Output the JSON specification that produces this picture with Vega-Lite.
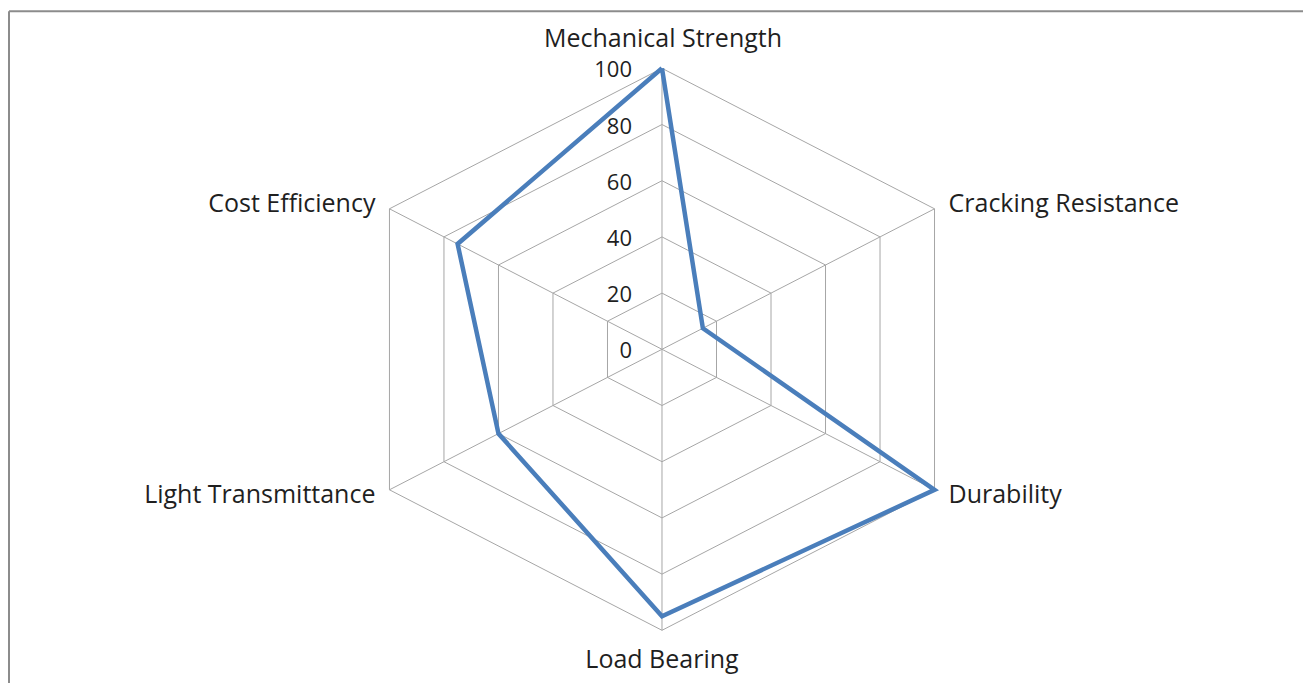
{
  "$schema": "https://vega.github.io/schema/vega-lite/v6.json",
  "width": 1303,
  "height": 683,
  "autosize": {"type": "none"},
  "padding": 0,
  "background": "white",
  "config": {"view": {"stroke": null}},
  "datasets": {
    "cats": [
      {"category": "Mechanical Strength", "i": 0, "value": 100},
      {"category": "Cracking Resistance", "i": 1, "value": 15},
      {"category": "Durability", "i": 2, "value": 100},
      {"category": "Load Bearing", "i": 3, "value": 95},
      {"category": "Light Transmittance", "i": 4, "value": 60},
      {"category": "Cost Efficiency", "i": 5, "value": 75}
    ],
    "series": [
      {"category": "Mechanical Strength", "i": 0, "value": 100},
      {"category": "Cracking Resistance", "i": 1, "value": 15},
      {"category": "Durability", "i": 2, "value": 100},
      {"category": "Load Bearing", "i": 3, "value": 95},
      {"category": "Light Transmittance", "i": 4, "value": 60},
      {"category": "Cost Efficiency", "i": 5, "value": 75},
      {"category": "Mechanical Strength", "i": 6, "value": 100}
    ],
    "grid": [
      {"level": 20, "i": 0}, {"level": 20, "i": 1}, {"level": 20, "i": 2}, {"level": 20, "i": 3}, {"level": 20, "i": 4}, {"level": 20, "i": 5}, {"level": 20, "i": 6},
      {"level": 40, "i": 0}, {"level": 40, "i": 1}, {"level": 40, "i": 2}, {"level": 40, "i": 3}, {"level": 40, "i": 4}, {"level": 40, "i": 5}, {"level": 40, "i": 6},
      {"level": 60, "i": 0}, {"level": 60, "i": 1}, {"level": 60, "i": 2}, {"level": 60, "i": 3}, {"level": 60, "i": 4}, {"level": 60, "i": 5}, {"level": 60, "i": 6},
      {"level": 80, "i": 0}, {"level": 80, "i": 1}, {"level": 80, "i": 2}, {"level": 80, "i": 3}, {"level": 80, "i": 4}, {"level": 80, "i": 5}, {"level": 80, "i": 6},
      {"level": 100, "i": 0}, {"level": 100, "i": 1}, {"level": 100, "i": 2}, {"level": 100, "i": 3}, {"level": 100, "i": 4}, {"level": 100, "i": 5}, {"level": 100, "i": 6}
    ],
    "ticks": [
      {"level": 0}, {"level": 20}, {"level": 40}, {"level": 60}, {"level": 80}, {"level": 100}
    ],
    "frame": [
      {"side": "left", "x": -207.5, "y": 120.3, "x2": -207.5, "y2": -130},
      {"side": "top", "x": -207.5, "y": 120.3, "x2": 215, "y2": 120.3}
    ]
  },
  "layer": [
    {
      "data": {"name": "frame"},
      "mark": {"type": "rule", "color": "#8c8c8c", "strokeWidth": 2},
      "encoding": {
        "x": {"field": "x", "type": "quantitative", "scale": {"domain": [-210.36, 203.69], "nice": false, "zero": false}, "axis": null},
        "y": {"field": "y", "type": "quantitative", "scale": {"domain": [-118.75, 124.31], "nice": false, "zero": false}, "axis": null},
        "x2": {"field": "x2"},
        "y2": {"field": "y2"}
      }
    },
    {
      "data": {"name": "grid"},
      "transform": [
        {"calculate": "datum.level * sin(datum.i * PI / 3)", "as": "gx"},
        {"calculate": "datum.level * cos(datum.i * PI / 3)", "as": "gy"}
      ],
      "mark": {"type": "line", "color": "#a6a6a6", "strokeWidth": 1, "strokeJoin": "miter"},
      "encoding": {
        "x": {"field": "gx", "type": "quantitative", "scale": {"domain": [-210.36, 203.69], "nice": false, "zero": false}, "axis": null},
        "y": {"field": "gy", "type": "quantitative", "scale": {"domain": [-118.75, 124.31], "nice": false, "zero": false}, "axis": null},
        "detail": {"field": "level", "type": "nominal"},
        "order": {"field": "i", "type": "quantitative"}
      }
    },
    {
      "data": {"name": "cats"},
      "transform": [
        {"calculate": "100 * sin(datum.i * PI / 3)", "as": "sx"},
        {"calculate": "100 * cos(datum.i * PI / 3)", "as": "sy"},
        {"calculate": "0", "as": "ox"}
      ],
      "mark": {"type": "rule", "color": "#a6a6a6", "strokeWidth": 1},
      "encoding": {
        "x": {"field": "ox", "type": "quantitative", "scale": {"domain": [-210.36, 203.69], "nice": false, "zero": false}, "axis": null},
        "y": {"field": "ox", "type": "quantitative", "scale": {"domain": [-118.75, 124.31], "nice": false, "zero": false}, "axis": null},
        "x2": {"field": "sx"},
        "y2": {"field": "sy"}
      }
    },
    {
      "data": {"name": "series"},
      "transform": [
        {"calculate": "datum.value * sin(datum.i * PI / 3)", "as": "px"},
        {"calculate": "datum.value * cos(datum.i * PI / 3)", "as": "py"}
      ],
      "mark": {"type": "line", "color": "#4a7ebb", "strokeWidth": 4.5, "strokeJoin": "miter"},
      "encoding": {
        "x": {"field": "px", "type": "quantitative", "scale": {"domain": [-210.36, 203.69], "nice": false, "zero": false}, "axis": null},
        "y": {"field": "py", "type": "quantitative", "scale": {"domain": [-118.75, 124.31], "nice": false, "zero": false}, "axis": null},
        "order": {"field": "i", "type": "quantitative"}
      }
    },
    {
      "data": {"name": "ticks"},
      "transform": [{"calculate": "0", "as": "tx"}],
      "mark": {"type": "text", "align": "right", "baseline": "middle", "dx": -30, "dy": 2, "font": "Open Sans", "fontSize": 22, "color": "#1f1f1f"},
      "encoding": {
        "x": {"field": "tx", "type": "quantitative", "scale": {"domain": [-210.36, 203.69], "nice": false, "zero": false}, "axis": null},
        "y": {"field": "level", "type": "quantitative", "scale": {"domain": [-118.75, 124.31], "nice": false, "zero": false}, "axis": null},
        "text": {"field": "level", "type": "quantitative"}
      }
    },
    {
      "data": {"name": "cats"},
      "transform": [
        {"filter": "datum.i == 0"},
        {"calculate": "100 * sin(datum.i * PI / 3)", "as": "lx"},
        {"calculate": "100 * cos(datum.i * PI / 3)", "as": "ly"}
      ],
      "mark": {"type": "text", "align": "center", "baseline": "alphabetic", "dx": 1, "dy": -21, "font": "Open Sans", "fontSize": 25, "color": "#1f1f1f"},
      "encoding": {
        "x": {"field": "lx", "type": "quantitative", "scale": {"domain": [-210.36, 203.69], "nice": false, "zero": false}, "axis": null},
        "y": {"field": "ly", "type": "quantitative", "scale": {"domain": [-118.75, 124.31], "nice": false, "zero": false}, "axis": null},
        "text": {"field": "category", "type": "nominal"}
      }
    },
    {
      "data": {"name": "cats"},
      "transform": [
        {"filter": "datum.i == 1"},
        {"calculate": "100 * sin(datum.i * PI / 3)", "as": "lx"},
        {"calculate": "100 * cos(datum.i * PI / 3)", "as": "ly"}
      ],
      "mark": {"type": "text", "align": "left", "baseline": "alphabetic", "dx": 14, "dy": 3, "font": "Open Sans", "fontSize": 25, "color": "#1f1f1f"},
      "encoding": {
        "x": {"field": "lx", "type": "quantitative", "scale": {"domain": [-210.36, 203.69], "nice": false, "zero": false}, "axis": null},
        "y": {"field": "ly", "type": "quantitative", "scale": {"domain": [-118.75, 124.31], "nice": false, "zero": false}, "axis": null},
        "text": {"field": "category", "type": "nominal"}
      }
    },
    {
      "data": {"name": "cats"},
      "transform": [
        {"filter": "datum.i == 2"},
        {"calculate": "100 * sin(datum.i * PI / 3)", "as": "lx"},
        {"calculate": "100 * cos(datum.i * PI / 3)", "as": "ly"}
      ],
      "mark": {"type": "text", "align": "left", "baseline": "alphabetic", "dx": 14, "dy": 13.5, "font": "Open Sans", "fontSize": 25, "color": "#1f1f1f"},
      "encoding": {
        "x": {"field": "lx", "type": "quantitative", "scale": {"domain": [-210.36, 203.69], "nice": false, "zero": false}, "axis": null},
        "y": {"field": "ly", "type": "quantitative", "scale": {"domain": [-118.75, 124.31], "nice": false, "zero": false}, "axis": null},
        "text": {"field": "category", "type": "nominal"}
      }
    },
    {
      "data": {"name": "cats"},
      "transform": [
        {"filter": "datum.i == 3"},
        {"calculate": "100 * sin(datum.i * PI / 3)", "as": "lx"},
        {"calculate": "100 * cos(datum.i * PI / 3)", "as": "ly"}
      ],
      "mark": {"type": "text", "align": "center", "baseline": "alphabetic", "dx": 0, "dy": 38, "font": "Open Sans", "fontSize": 25, "color": "#1f1f1f"},
      "encoding": {
        "x": {"field": "lx", "type": "quantitative", "scale": {"domain": [-210.36, 203.69], "nice": false, "zero": false}, "axis": null},
        "y": {"field": "ly", "type": "quantitative", "scale": {"domain": [-118.75, 124.31], "nice": false, "zero": false}, "axis": null},
        "text": {"field": "category", "type": "nominal"}
      }
    },
    {
      "data": {"name": "cats"},
      "transform": [
        {"filter": "datum.i == 4"},
        {"calculate": "100 * sin(datum.i * PI / 3)", "as": "lx"},
        {"calculate": "100 * cos(datum.i * PI / 3)", "as": "ly"}
      ],
      "mark": {"type": "text", "align": "right", "baseline": "alphabetic", "dx": -14, "dy": 13.5, "font": "Open Sans", "fontSize": 25, "color": "#1f1f1f"},
      "encoding": {
        "x": {"field": "lx", "type": "quantitative", "scale": {"domain": [-210.36, 203.69], "nice": false, "zero": false}, "axis": null},
        "y": {"field": "ly", "type": "quantitative", "scale": {"domain": [-118.75, 124.31], "nice": false, "zero": false}, "axis": null},
        "text": {"field": "category", "type": "nominal"}
      }
    },
    {
      "data": {"name": "cats"},
      "transform": [
        {"filter": "datum.i == 5"},
        {"calculate": "100 * sin(datum.i * PI / 3)", "as": "lx"},
        {"calculate": "100 * cos(datum.i * PI / 3)", "as": "ly"}
      ],
      "mark": {"type": "text", "align": "right", "baseline": "alphabetic", "dx": -14, "dy": 3, "font": "Open Sans", "fontSize": 25, "color": "#1f1f1f"},
      "encoding": {
        "x": {"field": "lx", "type": "quantitative", "scale": {"domain": [-210.36, 203.69], "nice": false, "zero": false}, "axis": null},
        "y": {"field": "ly", "type": "quantitative", "scale": {"domain": [-118.75, 124.31], "nice": false, "zero": false}, "axis": null},
        "text": {"field": "category", "type": "nominal"}
      }
    }
  ]
}
